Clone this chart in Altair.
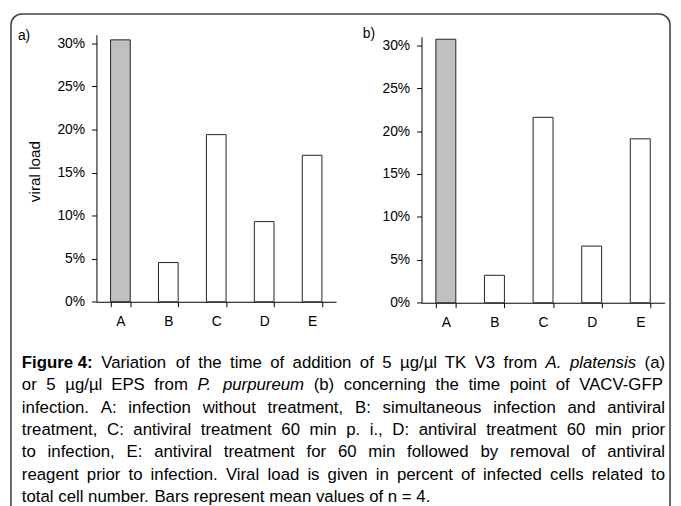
import altair as alt
import pandas as pd

# ---------------- data ----------------
categories = ["A", "B", "C", "D", "E"]
viral_load_a = [0.304, 0.0455, 0.194, 0.093, 0.170]
viral_load_b = [0.307, 0.032, 0.216, 0.066, 0.191]
y_tick_values = [0.0, 0.05, 0.10, 0.15, 0.20, 0.25, 0.30]
panel_labels = ["a)", "b)"]
y_axis_title = "viral load"

caption_lines = [
    "Figure 4:  Variation of the time of addition of 5 µg/µl TK V3 from A. platensis (a)",
    "or 5 µg/µl EPS from P. purpureum (b) concerning the time point of VACV-GFP",
    "infection. A: infection without treatment, B: simultaneous infection and antiviral",
    "treatment, C: antiviral treatment 60 min p. i., D: antiviral treatment 60 min prior",
    "to infection, E: antiviral treatment for 60 min followed by removal of antiviral",
    "reagent prior to infection. Viral load is given in percent of infected cells related to",
    "total cell number. Bars represent mean values of n = 4.",
]
bold_phrases = ["Figure 4:"]
italic_phrases = ["A. platensis", "P. purpureum"]

# ---------------- layout / style ----------------
W, H = 673, 498
FONT = "Liberation Sans, Arial, Helvetica, sans-serif"
TICK_FS = 14
CAP_FS = 17

# Arial / Liberation Sans advance widths (1/1000 em), used to justify the caption
_w = {' ': 278, '%': 889, '(': 333, ')': 333, ',': 278, '-': 333, '.': 278, '/': 278,
      ':': 278, ';': 278, '=': 584, 'µ': 556,
      'A': 667, 'B': 667, 'C': 722, 'D': 722, 'E': 667, 'F': 611, 'G': 778, 'H': 722,
      'I': 278, 'J': 500, 'K': 667, 'L': 556, 'M': 833, 'N': 722, 'O': 778, 'P': 667,
      'Q': 778, 'R': 722, 'S': 667, 'T': 611, 'U': 722, 'V': 667, 'W': 944, 'X': 667,
      'Y': 667, 'Z': 611,
      'a': 556, 'b': 556, 'c': 500, 'd': 556, 'e': 556, 'f': 278, 'g': 556, 'h': 556,
      'i': 222, 'j': 222, 'k': 500, 'l': 222, 'm': 833, 'n': 556, 'o': 556, 'p': 556,
      'q': 556, 'r': 333, 's': 500, 't': 278, 'u': 556, 'v': 500, 'w': 722, 'x': 500,
      'y': 500, 'z': 500}
for d in "0123456789":
    _w[d] = 556
_wb = dict(_w)
_wb.update({'a': 556, 'b': 611, 'c': 556, 'd': 611, 'e': 556, 'f': 333, 'g': 611, 'h': 611,
            'i': 278, 'j': 278, 'k': 556, 'l': 278, 'm': 889, 'n': 611, 'o': 611, 'p': 611,
            'q': 611, 'r': 389, 's': 556, 't': 333, 'u': 611, 'v': 556, 'w': 778, 'x': 556,
            'y': 556, 'z': 500, ':': 333})


def text_width(s, style, fs):
    table = _wb if style == "bold" else _w
    return sum(table.get(c, 556) for c in s) * fs / 1000.0


def tokenize(line):
    segs = [(line, "normal")]
    for phrases, st in [(bold_phrases, "bold"), (italic_phrases, "italic")]:
        for phrase in phrases:
            new = []
            for text, s in segs:
                if s == "normal" and phrase in text:
                    before, after = text.split(phrase, 1)
                    if before.strip():
                        new.append((before, "normal"))
                    new.append((phrase, st))
                    if after.strip():
                        new.append((after, "normal"))
                else:
                    new.append((text, s))
            segs = new
    toks = []
    for text, s in segs:
        if s == "bold":
            toks.append((text.strip(), s))
        else:
            toks += [(w, s) for w in text.split()]
    return toks


def panel(values, x_range, y_range, x_offset, y_offset, title=None):
    df = pd.DataFrame({"cat": categories, "load": values})
    y_axis_kw = dict(
        orient="left", offset=y_offset, values=y_tick_values, format=".0%",
        grid=False, domainColor="#000", tickColor="#000", labelColor="#000",
        labelFont=FONT, labelFontSize=TICK_FS, tickSize=5, labelPadding=7,
        domainWidth=1, tickWidth=1,
    )
    if title:
        y_axis_kw.update(
            title=title, titleFont=FONT, titleFontSize=15.5, titleFontWeight="normal",
            titleColor="#000", titleAngle=270, titleX=-63, titleY=162,
            titleBaseline="middle", titleAlign="center",
        )
    else:
        y_axis_kw.update(title="")
    return alt.Chart(df).mark_bar(stroke="#222", strokeWidth=1).encode(
        x=alt.X(
            "cat:N",
            title="",
            scale=alt.Scale(domain=categories, range=x_range, paddingInner=0.59, paddingOuter=0.295),
            axis=alt.Axis(
                orient="bottom", offset=x_offset, labelAngle=0, tickBand="extent",
                grid=False, domainColor="#000", tickColor="#000", labelColor="#000",
                labelFont=FONT, labelFontSize=TICK_FS, tickSize=5, labelPadding=8,
                domainWidth=1, tickWidth=1,
            ),
        ),
        y=alt.Y(
            "load:Q",
            scale=alt.Scale(domain=[0, 0.31], range=y_range, nice=False, zero=True),
            axis=alt.Axis(**y_axis_kw),
        ),
        fill=alt.condition("datum.cat == 'A'", alt.value("#c0c0c0"), alt.value("#ffffff")),
    )


# panel a: y axis at plot x 89.5, baseline at plot y 294.3
panel_a = panel(viral_load_a, [89.5, 332], [294.3, 24.0], -(H - 294.3), -89.5, y_axis_title)
# panel b
panel_b = panel(viral_load_b, [418.5, 664.5], [295.3, 26.0], -(H - 295.3), -418.5)

one = pd.DataFrame({"k": [0]})
border = alt.Chart(one).mark_rect(
    fill=None, stroke="#444", strokeWidth=1.6, cornerRadius=11
).encode(x=alt.value(3), x2=alt.value(670), y=alt.value(3), y2=alt.value(620))


def text_layer(txt, x, y, align="left", size=CAP_FS, weight="normal", style="normal"):
    return alt.Chart(pd.DataFrame({"t": [txt]})).mark_text(
        align=align, baseline="middle", font=FONT, fontSize=size,
        fontWeight=weight, fontStyle=style, color="#000",
    ).encode(text="t:N", x=alt.value(x), y=alt.value(y))


layers = [border, panel_a, panel_b]
layers.append(text_layer(panel_labels[0], 10, 25, size=14))
layers.append(text_layer(panel_labels[1], 359, 23, size=14))

LINE0 = 356.5
STEP = 22.6
LEFT = 14
RIGHT = 665
AVAIL = RIGHT - LEFT

for i, line in enumerate(caption_lines):
    toks = tokenize(line)
    widths = [text_width(t, s, CAP_FS) for t, s in toks]
    last = i == len(caption_lines) - 1
    if last or len(toks) < 2:
        gap = _w[' '] * CAP_FS / 1000.0
    else:
        gap = (AVAIL - sum(widths)) / (len(toks) - 1)
    x = LEFT
    y = LINE0 + STEP * i
    for (t, s), w in zip(toks, widths):
        layers.append(text_layer(
            t, round(x, 2), y,
            weight="bold" if s == "bold" else "normal",
            style="italic" if s == "italic" else "normal",
        ))
        x += w + gap

chart = alt.layer(*layers).resolve_scale(
    x="independent", y="independent"
).resolve_axis(
    x="independent", y="independent"
).properties(
    width=W, height=H, autosize=alt.AutoSizeParams(type="none"), padding=0,
).configure_view(strokeWidth=0)

chart.save("out.html", embed_options={"renderer": "svg", "actions": False})
